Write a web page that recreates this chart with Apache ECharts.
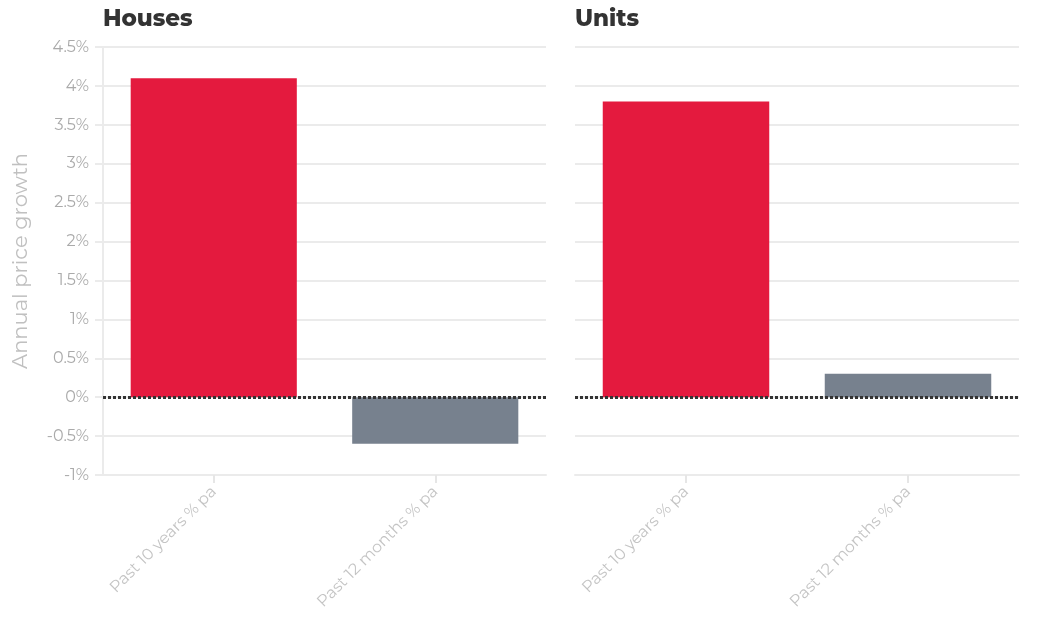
<!DOCTYPE html>
<html>
<head>
<meta charset="utf-8">
<script src="https://cdn.jsdelivr.net/npm/echarts@6/dist/echarts.min.js"></script>
<style>
  html, body { margin: 0; padding: 0; background: #fff; }
  #chart { width: 1049px; height: 628px; }
</style>
</head>
<body>
<div id="chart"></div>
<script>
// data
const panels = ['Houses', 'Units']
const categories = ['Past 10 years % pa', 'Past 12 months % pa']
const housesValues = [4.1, -0.6]
const unitsValues = [3.8, 0.3]
const barColors = ['#e41a3e', '#77818e']

const yMin = -1, yMax = 4.5, yStep = 0.5
const font = 'Montserrat, "Open Sans", Lato, sans-serif'

const chart = echarts.init(document.getElementById('chart'))

const grids = [
  { left: 103, right: 503, top: 47, bottom: 153 },
  { left: 575, right: 30, top: 47, bottom: 153 }
]

function makeX(i) {
  return {
    type: 'category', gridIndex: i, data: categories,
    axisLine: { onZero: false, lineStyle: { color: '#ebebeb', width: 2 } },
    axisTick: { show: true, alignWithLabel: true, length: 8, lineStyle: { color: '#e6e6e6', width: 2 } },
    axisLabel: { rotate: 45, color: '#c4c4c4', fontSize: 16, fontFamily: font, margin: 14 }
  }
}

function makeY(i) {
  const first = i === 0
  return {
    type: 'value', gridIndex: i, min: yMin, max: yMax, interval: yStep,
    name: first ? 'Annual price growth' : '',
    nameLocation: 'middle', nameGap: 72,
    nameTextStyle: { color: '#c0c0c0', fontSize: 21, fontFamily: font },
    axisLine: { show: first, lineStyle: { color: '#ebebeb', width: 2 } },
    axisTick: { show: first, length: 8, lineStyle: { color: '#ebebeb', width: 2 } },
    axisLabel: { show: first, color: '#aaaaaa', fontSize: 16, fontFamily: font, margin: 14,
      formatter: v => v + '%' },
    splitLine: { show: true, lineStyle: { color: '#ebebeb', width: 2 } }
  }
}

function makeSeries(i, values) {
  return {
    type: 'bar', xAxisIndex: i, yAxisIndex: i, barWidth: '75%',
    data: values.map((v, k) => ({ value: v, itemStyle: { color: barColors[k] } })),
    markLine: {
      silent: true, symbol: 'none', label: { show: false },
      lineStyle: { color: '#333', type: [3, 2], width: 3 },
      data: [{ yAxis: 0 }]
    }
  }
}

chart.setOption({
  animation: false,
  title: panels.map((p, i) => ({
    text: p, left: grids[i].left - 5, top: 3,
    textStyle: { color: '#333', fontSize: 23, fontWeight: 800, fontFamily: font }
  })),
  grid: grids,
  xAxis: [makeX(0), makeX(1)],
  yAxis: [makeY(0), makeY(1)],
  series: [makeSeries(0, housesValues), makeSeries(1, unitsValues)]
})
</script>
</body>
</html>
